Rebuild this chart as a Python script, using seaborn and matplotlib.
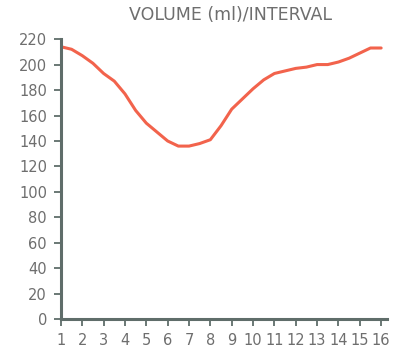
import matplotlib
matplotlib.use("Agg")
import matplotlib.pyplot as plt
import seaborn as sns
import pandas as pd

# Volume per interval, read at half-interval steps
interval = [1, 1.5, 2, 2.5, 3, 3.5, 4, 4.5, 5, 5.5, 6, 6.5, 7, 7.5, 8, 8.5,
            9, 9.5, 10, 10.5, 11, 11.5, 12, 12.5, 13, 13.5, 14, 14.5, 15, 15.5, 16]
volume = [214, 212, 207, 201, 193, 187, 177, 164, 154, 147, 140, 136, 136, 138, 141, 152,
          165, 173, 181, 188, 193, 195, 197, 198, 200, 200, 202, 205, 209, 213, 213]
x_ticks = list(range(1, 17))
y_ticks = list(range(0, 221, 20))
title = "VOLUME (ml)/INTERVAL"

sns.set_style("ticks")
plt.rcParams["font.family"] = ["DejaVu Sans"]

df = pd.DataFrame({"interval": interval, "volume": volume})

fig = plt.figure(figsize=(3.93, 3.49), dpi=100)
ax = fig.add_axes([0.155, 0.085, 0.8295, 0.803])

sns.lineplot(data=df, x="interval", y="volume", ax=ax, color="#f2634c", linewidth=2.2)

axis_color = "#5f6d6a"
text_color = "#6e6e6e"
ax.set_xlim(1, 16.27)
ax.set_ylim(0, 220)
ax.set_xticks(x_ticks)
ax.set_yticks(y_ticks)
ax.set_xlabel("")
ax.set_ylabel("")
for side in ("top", "right"):
    ax.spines[side].set_visible(False)
for side in ("left", "bottom"):
    ax.spines[side].set_color(axis_color)
    ax.spines[side].set_linewidth(2.2)
ax.tick_params(axis="both", colors=axis_color, labelcolor=text_color, labelsize=10.5,
               length=5, width=1.3, direction="out")
ax.tick_params(axis="x", pad=5)
ax.tick_params(axis="y", pad=5)

fig.text(0.587, 0.957, title, ha="center", va="center", fontsize=12.5, color=text_color)

fig.savefig("out.png", dpi=100, facecolor="white")
